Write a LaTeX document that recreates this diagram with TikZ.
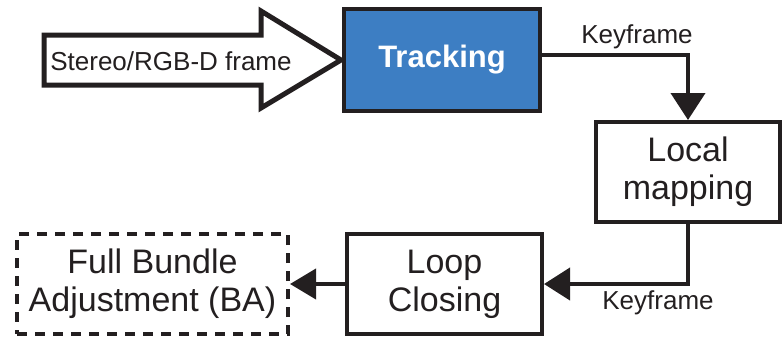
\documentclass[tikz,border=0pt]{standalone}
\usepackage{fontspec}
\setmainfont{Liberation Sans}
\usetikzlibrary{arrows.meta}
\definecolor{ink}{HTML}{231F20}
\definecolor{trackblue}{HTML}{3D7EC3}
\begin{document}
\begin{tikzpicture}[x=1pt,y=-1pt,
  box/.style={draw=ink, line width=4pt, fill=white, inner sep=0pt, align=center,
    font=\fontsize{34}{38}\selectfont, text=ink},
  lbl/.style={font=\fontsize{26}{30}\selectfont, text=ink, inner sep=0pt},
  conn/.style={draw=ink, line width=4pt},
]
\useasboundingbox (0,0) rectangle (784,338);
% big input arrow
\draw[draw=ink, line width=5pt, fill=white, line join=miter]
  (44,35) -- (261,35) -- (261,11) -- (341,60) -- (261,108) -- (261,85) -- (44,85) -- cycle;
\node[lbl] (input) at (171,61) {Stereo/RGB-D frame};
% boxes
\node[box, fill=trackblue, minimum width=196pt, minimum height=102pt,
  font=\fontsize{31}{36}\selectfont\bfseries, text=white] (track) at (442,60) {Tracking};
\node[box, minimum width=184pt, minimum height=100pt] (local) at (688,172) {Local\\mapping};
\node[box, minimum width=195pt, minimum height=100pt] (loop) at (444.5,284) {Loop\\Closing};
\node[box, dash pattern=on 10pt off 8pt, minimum width=271pt, minimum height=100pt] (full) at (152.5,284) {Full Bundle\\Adjustment (BA)};
% connectors
\draw[conn, -{Triangle[width=34pt,length=27pt]}] ([yshift=5pt]track.east) -| (local.north);
\draw[conn, -{Triangle[width=32pt,length=26pt]}] (local.south) |- (loop.east);
\draw[conn, -{Triangle[width=30pt,length=26pt]}] (loop.west) -- (full.east);
% labels
\node[lbl] (kf1) at (637,37) {Keyframe};
\node[lbl] (kf2) at (658,303) {Keyframe};
\end{tikzpicture}
\end{document}
